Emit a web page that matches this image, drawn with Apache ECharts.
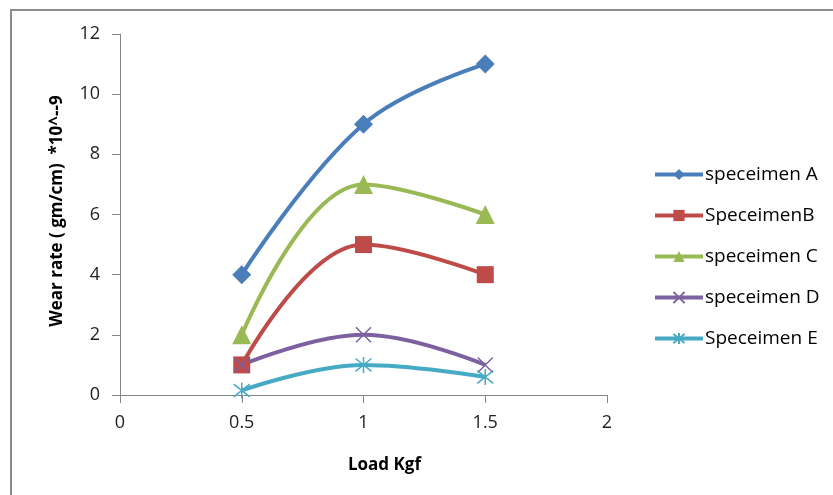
<!DOCTYPE html>
<html>
<head>
<meta charset="utf-8">
<script src="https://cdn.jsdelivr.net/npm/echarts@6/dist/echarts.min.js"></script>
<style>
  html, body { margin: 0; padding: 0; background: #fff; }
  #chart { width: 833px; height: 495px; }
</style>
</head>
<body>
<div id="chart"></div>
<script>
// data
const loads = [0.5, 1, 1.5];
const specA = [4, 9, 11];
const specB = [1, 5, 4];
const specC = [2, 7, 6];
const specD = [1, 2, 1];
const specE = [0.15, 1, 0.6];
const names = ["speceimen A", "SpeceimenB", "speceimen C", "speceimen D", "Speceimen E"];

const font = "'Open Sans', sans-serif";
const crossPath = "path://M0,0L10,10M10,0L0,10";
const starPath = "path://M5,0L5,10M1,1L9,9M9,1L1,9";

function pairs(ys) {
  return loads.map((x, i) => [x, ys[i]]);
}

function mkSeries(name, ys, color, symbol, size, stroke) {
  return {
    name: name,
    type: "line",
    smooth: 0.4,
    data: pairs(ys),
    symbol: symbol,
    symbolSize: size,
    lineStyle: { color: color, width: 4 },
    itemStyle: stroke
      ? { color: "none", borderColor: color, borderWidth: 1.5 }
      : { color: color, borderColor: color, borderWidth: 0 },
    z: 2
  };
}

let myChart = echarts.init(document.getElementById("chart"));
const option = {
  animation: false,
  backgroundColor: "#ffffff",
  textStyle: { fontFamily: font },
  grid: { left: 120, top: 34, width: 487, height: 361 },
  legend: {
    orient: "vertical",
    left: 648,
    top: 160,
    itemWidth: 48,
    itemHeight: 14,
    itemGap: 22,
    lineStyle: { width: 4 },
    textStyle: { fontSize: 19, color: "#000", fontFamily: font, padding: [0, 0, 0, -3] },
    data: names
  },
  xAxis: {
    type: "value",
    min: 0,
    max: 2,
    interval: 0.5,
    name: "Load Kgf",
    nameLocation: "middle",
    nameGap: 62,
    nameTextStyle: { fontSize: 17, fontWeight: "bold", color: "#000", padding: [0, 0, 0, 42] },
    axisLine: { lineStyle: { color: "#868686", width: 1 } },
    axisTick: { show: true, length: 8, lineStyle: { color: "#868686" } },
    axisLabel: { fontSize: 18, color: "#222", margin: 19 },
    splitLine: { show: false }
  },
  yAxis: {
    type: "value",
    min: 0,
    max: 12,
    interval: 2,
    name: "Wear rate ( gm/cm)  *10^--9",
    nameLocation: "middle",
    nameRotate: 90,
    nameGap: 54,
    nameTextStyle: { fontSize: 17, fontWeight: "bold", color: "#000", padding: [0, 0, 0, 7] },
    axisLine: { show: true, lineStyle: { color: "#868686", width: 1 } },
    axisTick: { show: true, length: 8, lineStyle: { color: "#868686" } },
    axisLabel: { fontSize: 18, color: "#222", margin: 20 },
    splitLine: { show: false }
  },
  graphic: [
    { type: "line", shape: { x1: 11, y1: 10, x2: 11, y2: 495 }, style: { stroke: "#8c8c8c", lineWidth: 2 } },
    { type: "line", shape: { x1: 10, y1: 10, x2: 833, y2: 10 }, style: { stroke: "#8c8c8c", lineWidth: 2 } }
  ],
  series: [
    mkSeries(names[0], specA, "#4a7ebb", "diamond", 19, false),
    mkSeries(names[1], specB, "#be4b48", "rect", 17, false),
    mkSeries(names[2], specC, "#98b954", "triangle", 19, false),
    mkSeries(names[3], specD, "#7d60a0", crossPath, 15, true),
    mkSeries(names[4], specE, "#46aac5", starPath, 16, true)
  ]
};

myChart.setOption(option);
</script>
</body>
</html>
